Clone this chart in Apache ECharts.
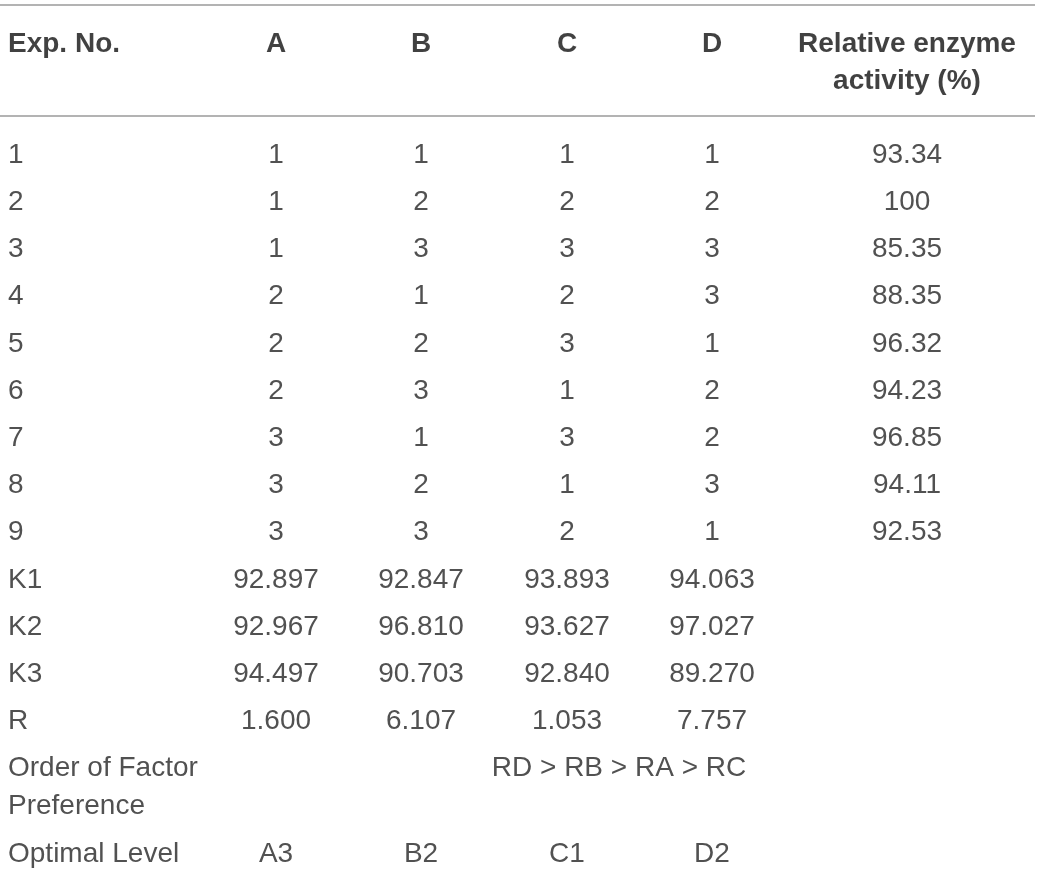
<!DOCTYPE html>
<html>
<head>
<meta charset="utf-8">
<style>
  html, body { margin: 0; padding: 0; background: #ffffff; }
  #chart { width: 1039px; height: 875px; }
</style>
<script src="https://cdn.jsdelivr.net/npm/echarts@6/dist/echarts.min.js"></script>
</head>
<body>
<div id="chart"></div>
<script>
// table content
const headers = ["Exp. No.", "A", "B", "C", "D", "Relative enzyme\nactivity (%)"];
const expNo = ["1", "2", "3", "4", "5", "6", "7", "8", "9"];
const levelA = [1, 1, 1, 2, 2, 2, 3, 3, 3];
const levelB = [1, 2, 3, 1, 2, 3, 1, 2, 3];
const levelC = [1, 2, 3, 2, 3, 1, 3, 1, 2];
const levelD = [1, 2, 3, 3, 1, 2, 2, 3, 1];
const activity = [93.34, 100, 85.35, 88.35, 96.32, 94.23, 96.85, 94.11, 92.53];
const statLabels = ["K1", "K2", "K3", "R"];
const statA = [92.897, 92.967, 94.497, 1.6];
const statB = [92.847, 96.81, 90.703, 6.107];
const statC = [93.893, 93.627, 92.84, 1.053];
const statD = [94.063, 97.027, 89.27, 7.757];
const orderLabel = "Order of Factor\nPreference";
const orderText = "RD > RB > RA > RC";
const optimalLabel = "Optimal Level";
const optimal = ["A3", "B2", "C1", "D2"];

// layout (pixel space of the 1039x875 canvas)
const colX = [8, 276, 421, 567, 712, 907];
const orderX = 619;
const headerY = 44;
const firstRowY = 155;
const rowStep = 47.2;

const chart = echarts.init(document.getElementById("chart"));

const headerCells = [];
const bodyCells = [];

headers.forEach(function (h, i) {
  headerCells.push({
    value: [colX[i], i === 5 ? headerY + 18.5 : headerY],
    text: h,
    label: { align: i === 0 ? "left" : "center" },
  });
});

function addCell(col, row, text) {
  bodyCells.push({
    value: [colX[col], firstRowY + row * rowStep],
    text: String(text),
    label: { align: col === 0 ? "left" : "center" },
  });
}

expNo.forEach(function (n, r) {
  addCell(0, r, n);
  addCell(1, r, levelA[r]);
  addCell(2, r, levelB[r]);
  addCell(3, r, levelC[r]);
  addCell(4, r, levelD[r]);
  addCell(5, r, activity[r]);
});

statLabels.forEach(function (s, k) {
  const r = expNo.length + k;
  addCell(0, r, s);
  addCell(1, r, statA[k].toFixed(3));
  addCell(2, r, statB[k].toFixed(3));
  addCell(3, r, statC[k].toFixed(3));
  addCell(4, r, statD[k].toFixed(3));
});

const orderRow = expNo.length + statLabels.length;
const orderY = firstRowY + orderRow * rowStep;
bodyCells.push({
  value: [colX[0], orderY + 19],
  text: orderLabel,
  label: { align: "left", lineHeight: 38 },
});
bodyCells.push({
  value: [orderX, orderY],
  text: orderText,
  label: { align: "center" },
});

const optimalY = orderY + 86;
bodyCells.push({
  value: [colX[0], optimalY],
  text: optimalLabel,
  label: { align: "left" },
});
optimal.forEach(function (o, i) {
  bodyCells.push({
    value: [colX[i + 1], optimalY],
    text: o,
    label: { align: "center" },
  });
});

chart.setOption({
  animation: false,
  grid: { left: 0, right: 0, top: 0, bottom: 0 },
  xAxis: { type: "value", min: 0, max: 1039, show: false },
  yAxis: { type: "value", min: 0, max: 875, inverse: true, show: false },
  graphic: [
    {
      type: "line",
      shape: { x1: 0, y1: 5, x2: 1035, y2: 5 },
      style: { stroke: "#9a9a9a", lineWidth: 1.5 },
    },
    {
      type: "line",
      shape: { x1: 0, y1: 116, x2: 1035, y2: 116 },
      style: { stroke: "#9a9a9a", lineWidth: 1.5 },
    },
  ],
  series: [
    {
      type: "scatter",
      symbolSize: 0,
      data: headerCells,
      label: {
        show: true,
        position: "inside",
        formatter: function (p) { return p.data.text; },
        fontFamily: "Liberation Sans",
        fontSize: 28,
        fontWeight: "bold",
        color: "#111111",
        lineHeight: 37,
      },
    },
    {
      type: "scatter",
      symbolSize: 0,
      data: bodyCells,
      label: {
        show: true,
        position: "inside",
        formatter: function (p) { return p.data.text; },
        fontFamily: "Liberation Sans",
        fontSize: 28,
        color: "#262626",
      },
    },
  ],
});
</script>
</body>
</html>
